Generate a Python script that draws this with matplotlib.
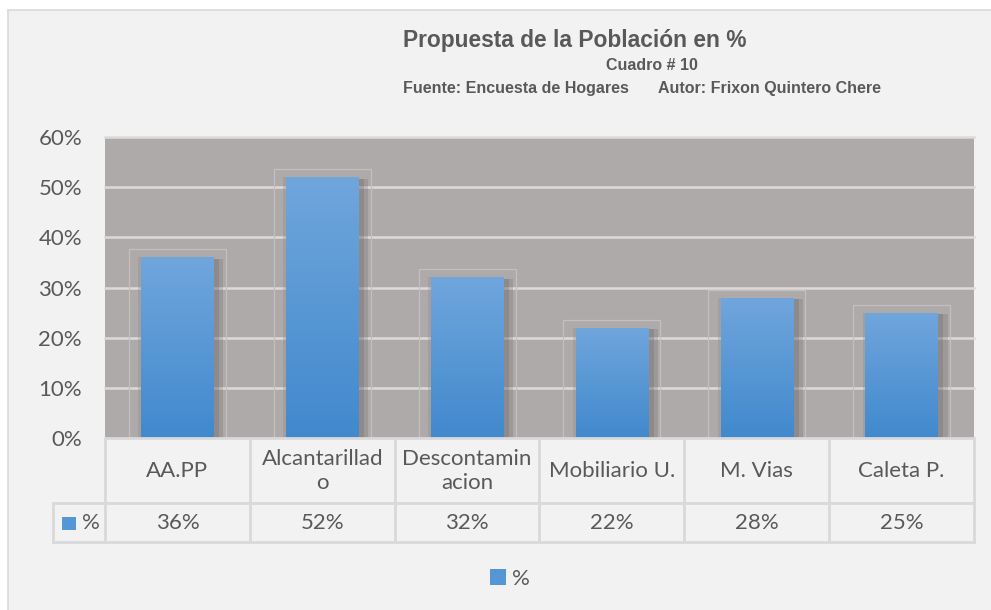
import matplotlib.pyplot as plt
import matplotlib.transforms as mtransforms
import matplotlib.patheffects as pe
from matplotlib.patches import Rectangle
from matplotlib.colors import LinearSegmentedColormap
import numpy as np

# datos
categorias = ['AA.PP', 'Alcantarillad\no', 'Descontamin\nacion', 'Mobiliario U.', 'M. Vias', 'Caleta P.']
valores = [36, 52, 32, 22, 28, 25]
etiquetas = ['36%', '52%', '32%', '22%', '28%', '25%']
yticks = [0, 10, 20, 30, 40, 50, 60]
serie = '%'

W, H = 991, 610
gris_txt = '#595959'
linea = '#d9d9d9'
fuente = ['Lato', 'DejaVu Sans']
titulo_f = ['Liberation Sans', 'DejaVu Sans']
fs = 16

fig = plt.figure(figsize=(W / 100, H / 100), dpi=100)
fig.patch.set_facecolor('white')
fig.patches.append(Rectangle((8 / W, -0.05), 1, 1.05 - 10 / H, transform=fig.transFigure,
                             facecolor='#f2f2f2', edgecolor=linea, lw=1.2, zorder=-5))

ax = fig.add_axes([105 / W, (H - 438) / H, (974 - 105) / W, (438 - 137) / H])
ax.set_facecolor('#aeaaa9')
for s in ax.spines.values():
    s.set_visible(False)

x = np.arange(len(valores))
for t in yticks[1:]:
    ax.axhline(t, color='#dedad9', lw=1.8, zorder=1, clip_on=False)

# contorno tenue detras de cada barra
for i, v in zip(x, valores):
    ax.add_patch(Rectangle((i - 0.335, 0), 0.67, v + 1.6, fill=False,
                           edgecolor='#c4c0bf', lw=0.9, zorder=2))

bars = ax.bar(x, valores, width=0.5, color='#5597d5', zorder=3)
cmap = LinearSegmentedColormap.from_list('azul', ['#4189cd', '#70a6dc'])
grad = np.linspace(0, 1, 256).reshape(-1, 1)
for b in bars:
    b.set_path_effects([
        pe.SimplePatchShadow(offset=(7, -1), shadow_rgbFace='#6e6a69', alpha=0.25),
        pe.SimplePatchShadow(offset=(4, -1), shadow_rgbFace='#6e6a69', alpha=0.3),
        pe.SimplePatchShadow(offset=(-2, 0), shadow_rgbFace='#8a8685', alpha=0.3),
        pe.Normal()])
    x0, w, h = b.get_x(), b.get_width(), b.get_height()
    im = ax.imshow(grad, cmap=cmap, origin='lower', aspect='auto',
                   extent=[x0, x0 + w, 0, h], zorder=4)
    im.set_clip_path(b)

ax.set_xlim(-0.5, len(valores) - 0.5)
ax.set_ylim(0, 60)
ax.set_xticks([])
ax.set_yticks(yticks)
ax.set_yticklabels([f'{t}%' for t in yticks])
ax.tick_params(axis='y', length=0, pad=16.5, labelsize=fs, labelcolor=gris_txt)
for lbl in ax.get_yticklabels():
    lbl.set_family(fuente)

# tabla de datos
trans = mtransforms.blended_transform_factory(ax.transData, ax.transAxes)


def fy(px):
    return (438 - px) / 301


izq = -0.5 - 52 / 145
der = len(valores) - 0.5
kw = dict(transform=trans, color=linea, lw=2, clip_on=False, zorder=5)
ax.plot([-0.5, der], [fy(438), fy(438)], **kw)
ax.plot([izq, der], [fy(503), fy(503)], **kw)
ax.plot([izq, der], [fy(542), fy(542)], **kw)
ax.plot([izq, izq], [fy(503), fy(542)], **kw)
for i in range(len(valores) + 1):
    ax.plot([i - 0.5, i - 0.5], [fy(438), fy(542)], **kw)

for i, (c, e) in enumerate(zip(categorias, etiquetas)):
    ax.text(i, fy(471), c, transform=trans, ha='center', va='center', fontsize=fs,
            color=gris_txt, family=fuente, linespacing=1.2, clip_on=False)
    ax.text(i, fy(523), e, transform=trans, ha='center', va='center', fontsize=fs,
            color=gris_txt, family=fuente, clip_on=False)

ax.add_patch(Rectangle((-0.5 - 43 / 145, fy(530)), 14 / 145, 13 / 301, transform=trans,
                       facecolor='#5597d5', edgecolor='none', clip_on=False, zorder=5))
ax.text(-0.5 - 23 / 145, fy(523), serie, transform=trans, ha='left', va='center',
        fontsize=fs, color=gris_txt, family=fuente, clip_on=False)

# leyenda inferior
proxy = Rectangle((0, 0), 1, 1, facecolor='#5597d5', edgecolor='none')
leg = ax.legend([proxy], [serie], loc='center', bbox_to_anchor=(510 / W, 1 - 579 / H),
                bbox_transform=fig.transFigure, frameon=False, handlelength=0.7,
                handleheight=0.7, handletextpad=0.3, prop={'family': fuente, 'size': fs})
for t in leg.get_texts():
    t.set_color(gris_txt)

# titulos
fig.text(403 / W, 1 - 40 / H, 'Propuesta de la Población en %', ha='left', va='center',
         fontsize=16.4, fontweight='bold', color=gris_txt, family=titulo_f)
fig.text(698 / W, 1 - 65 / H, 'Cuadro # 10', ha='right', va='center',
         fontsize=11.5, fontweight='bold', color=gris_txt, family=titulo_f)
fig.text(403 / W, 1 - 88 / H, 'Fuente: Encuesta de Hogares', ha='left', va='center',
         fontsize=11.5, fontweight='bold', color=gris_txt, family=titulo_f)
fig.text(658 / W, 1 - 88 / H, 'Autor: Frixon Quintero Chere', ha='left', va='center',
         fontsize=11.5, fontweight='bold', color=gris_txt, family=titulo_f)

fig.savefig('out.png', dpi=100, facecolor=fig.get_facecolor())
